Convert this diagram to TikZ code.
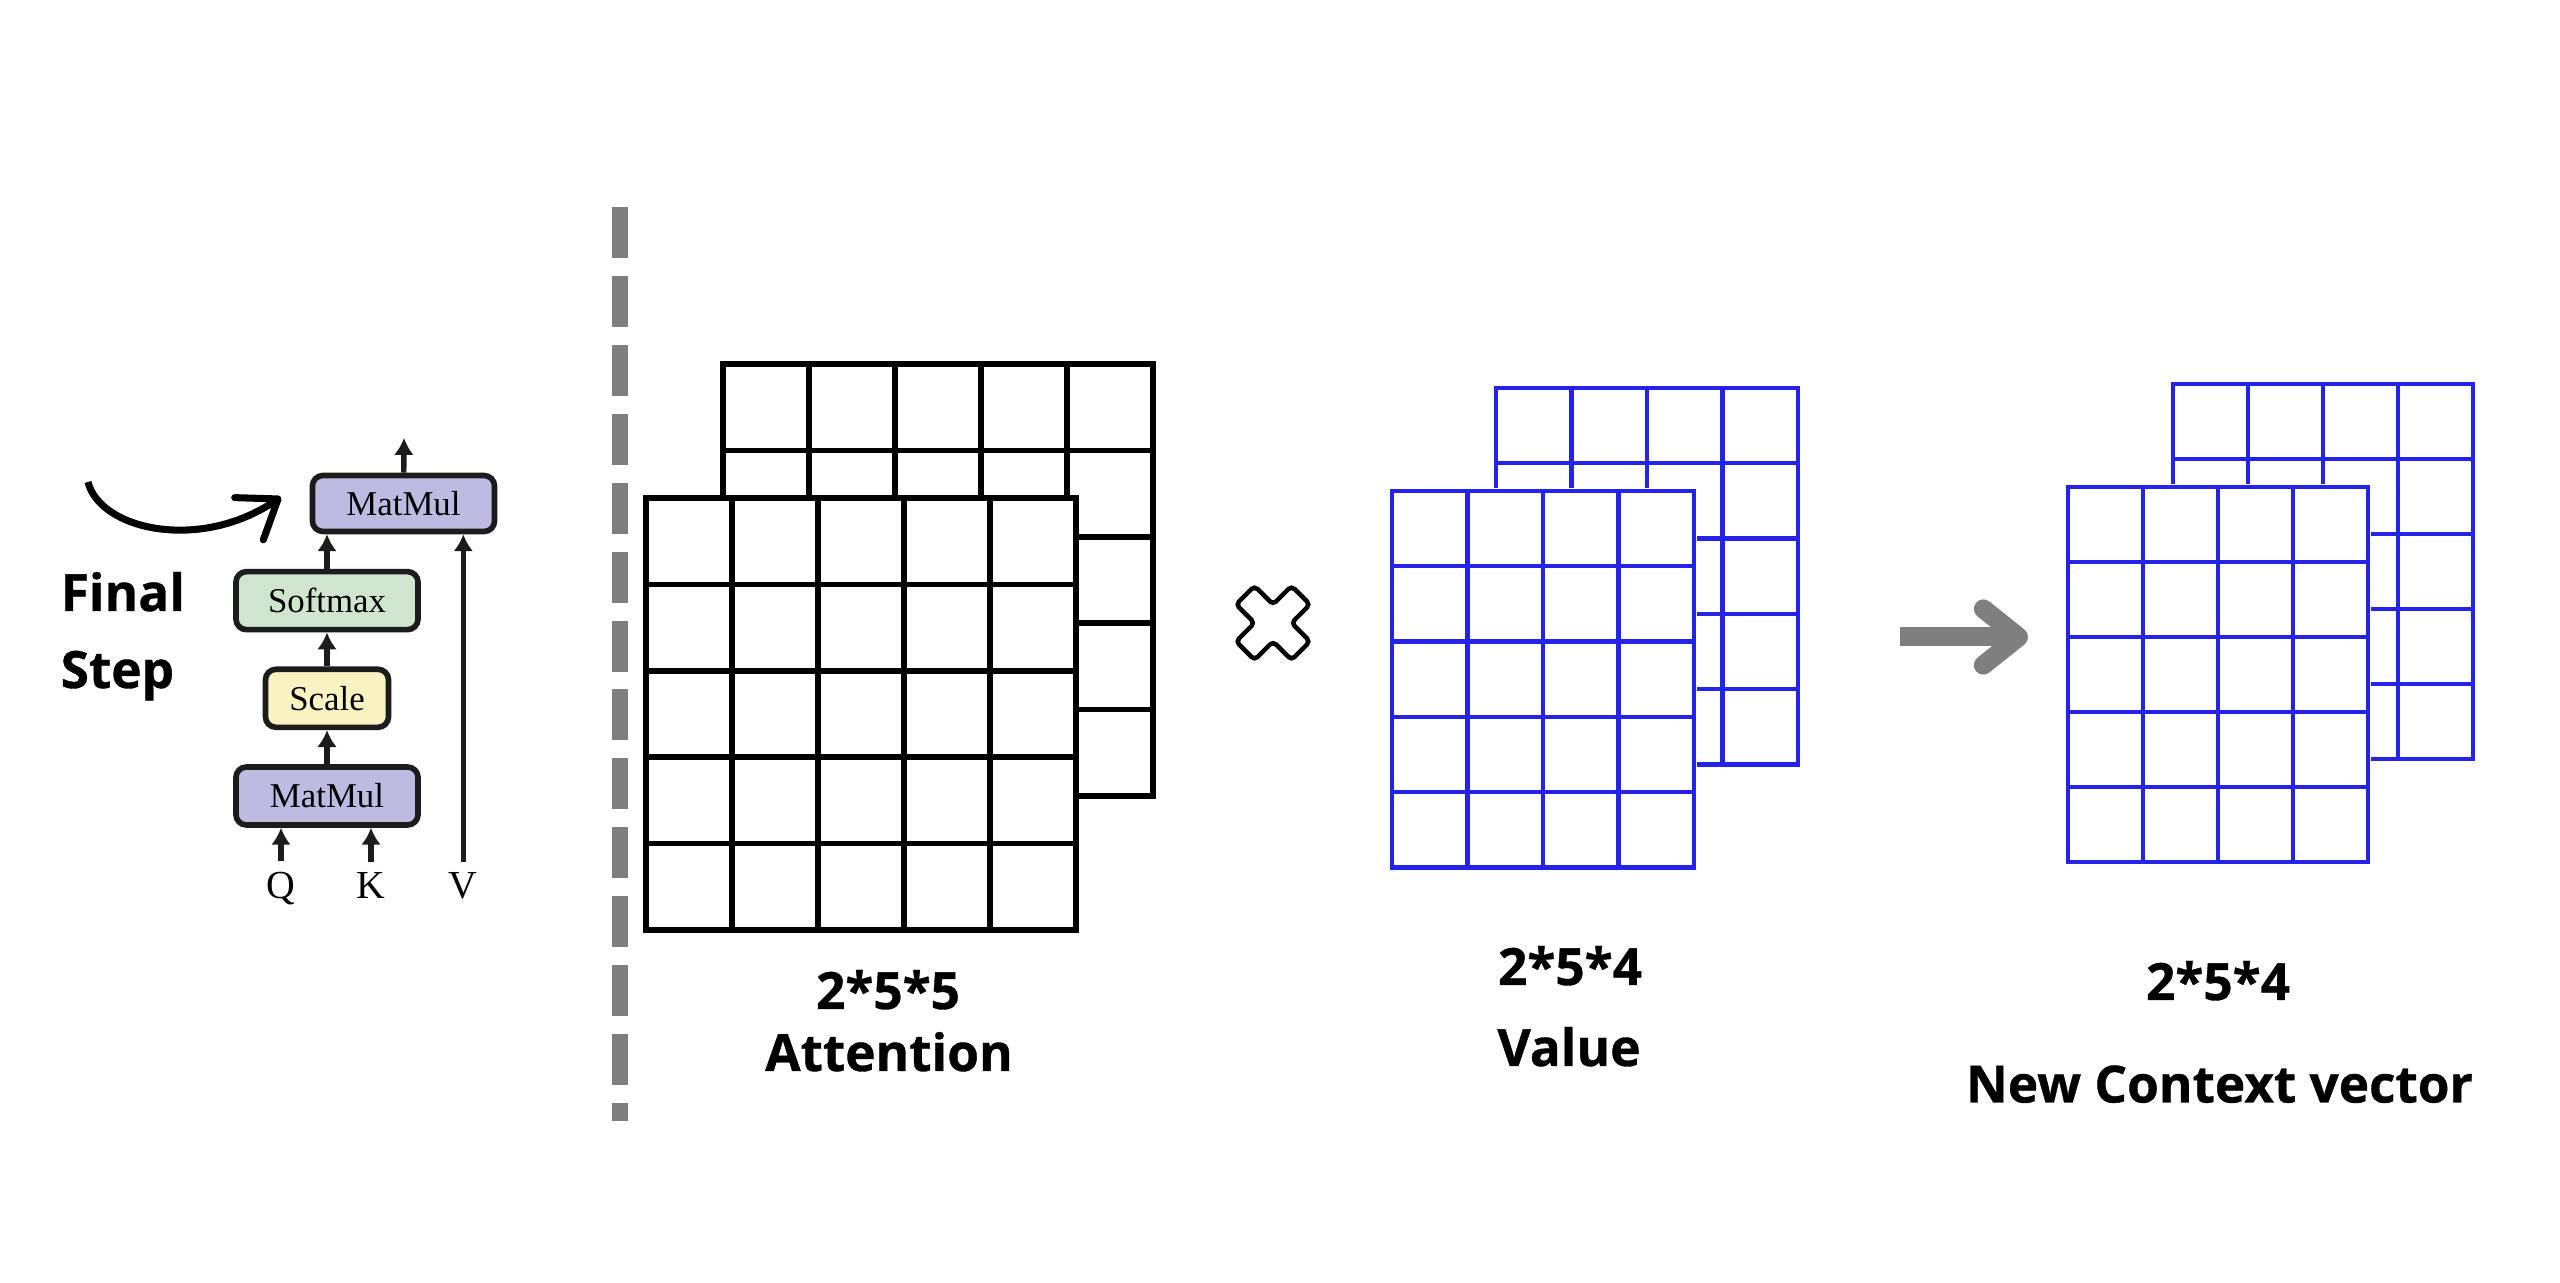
\documentclass[tikz,border=0pt]{standalone}
\usepackage{fontspec}
\setmainfont{Liberation Serif}
\newfontfamily\canvafont{Open Sans}[BoldFeatures={FakeBold=0.7}]
\usepackage{xcolor}
\usepackage{tikz}
\usetikzlibrary{positioning,arrows.meta}
\definecolor{ink}{HTML}{1C1C1C}
\definecolor{lavender}{HTML}{BEBBE3}
\definecolor{mint}{HTML}{CFE5CE}
\definecolor{cream}{HTML}{F8F3C0}
\definecolor{gridblue}{HTML}{2323EB}
\definecolor{divgray}{HTML}{7F7F7F}

\begin{document}
\begin{tikzpicture}[
        x=0.01cm, y=-0.01cm,
        op/.style={
            draw=ink,
            line width=1.6pt,
            rounded corners=3pt,
            minimum width=1.82cm,
            minimum height=0.58cm,
            inner sep=0pt,
            font=\fontsize{9.9}{11}\selectfont
        },
        flow/.style={
            -{Latex[length=4.8pt,width=5.6pt]},
            line width=1.55pt,
            color=ink
        },
        curvy/.style={
            -{Straight Barb[length=10pt,width=14.5pt,round]},
            line width=2pt,
            color=black
        },
        bigarrow/.style={
            -{Straight Barb[length=10pt,width=16pt,round]},
            line width=5.4pt,
            color=divgray
        },
        divider/.style={
            line width=4.8pt,
            color=divgray,
            dash pattern=on 14.5pt off 5.1pt
        },
        cell/.style={
            line cap=rect
        },
        sym/.style={
            inner sep=0pt,
            anchor=base,
            font=\fontsize{11.3}{12}\selectfont
        },
        caption/.style={
            inner sep=0pt,
            anchor=base,
            font=\canvafont\bfseries\fontsize{14.6}{17}\selectfont
        }
    ]
        \fill[white] (0,0) rectangle (2560,1283);
        \useasboundingbox (0,0) rectangle (2560,1283);

        % Left: attention block
        \node[op, fill=lavender] (mm1) at (327,796) {MatMul};
        \node[op, fill=cream, minimum width=1.23cm] (sc) [above=0.34cm of mm1] {Scale};
        \node[op, fill=mint] (sm) [above=0.34cm of sc] {Softmax};
        \node[op, fill=lavender, minimum height=0.56cm] (mm2) at (403.5,503.5) {MatMul};

        \node[sym] (q) at (281,899) {Q};
        \node[sym] (k) at (371,899) {K};
        \node[sym] (v) at (463.3,899) {V};
        \coordinate (out) at (404,438);

        \draw[flow] ([yshift=3pt]q.north) -- (q.north |- mm1.south);
        \draw[flow] ([yshift=3pt]k.north) -- (k.north |- mm1.south);
        \draw[flow] ([yshift=3pt]v.north) -- (v.north |- mm2.south);
        \draw[flow] (mm1) -- (sc);
        \draw[flow] (sc) -- (sm);
        \draw[flow] (sm.north) -- (sm.north |- mm2.south);
        \draw[flow] (mm2) -- (out);

        % Final step note
        \node[caption, anchor=base west] (fin) at (60,611) {Final};
        \node[caption, anchor=base west] (stp) at (60,688) {Step};
        \coordinate (cv0) at (88,482);
        \coordinate (cv1) at (281,497);
        \draw[curvy] (cv0) .. controls (100,530) and (200,552) .. (cv1);

        % Divider
        \draw[divider] (620,207) -- (620,1121);

        % Matrices, back layer first
        \foreach \gx/\gy/\gc/\gw/\gh/\gcol/\glw in {
            723/364/5/86/86.4/black/1.55pt, 646/498/5/86/86.4/black/1.55pt,
            1496/388/4/75.5/75.3/gridblue/1.2pt, 1392/491/4/75.5/75.3/gridblue/1.2pt,
            2173/384/4/75/75/gridblue/1.2pt, 2068/487/4/75/75/gridblue/1.2pt}
        {
            \fill[white] ({\gx-3},{\gy-3}) rectangle ({\gx+\gc*\gw+3},{\gy+5*\gh+3});
            \foreach \i in {0,...,\gc}
                \draw[cell, draw=\gcol, line width=\glw] ({\gx+\i*\gw},\gy) -- ++(0,{5*\gh});
            \foreach \j in {0,...,5}
                \draw[cell, draw=\gcol, line width=\glw] (\gx,{\gy+\j*\gh}) -- ++({\gc*\gw},0);
        }

        % Times sign
        \draw[line width=1.3pt, rounded corners=1.2pt] (1273,604.5)
            -- ++(18.5,-18.5) -- ++(18.5,18.5) -- ++(-18.5,18.5) -- ++(18.5,18.5)
            -- ++(-18.5,18.5) -- ++(-18.5,-18.5) -- ++(-18.5,18.5) -- ++(-18.5,-18.5)
            -- ++(18.5,-18.5) -- ++(-18.5,-18.5) -- ++(18.5,-18.5) -- cycle;

        % Result arrow
        \coordinate (g0) at (1900,637);
        \coordinate (g1) at (2028,637);
        \draw[bigarrow] (g0) -- (g1);

        % Labels
        \node[caption] (dimA) at (888,1009) {2*5*5};
        \node[caption] (nameA) at (889,1071) {Attention};
        \node[caption] (dimV) at (1570,985) {2*5*4};
        \node[caption] (nameV) at (1569,1066) {Value};
        \node[caption] (dimC) at (2218,1000) {2*5*4};
        \node[caption] (nameC) at (2219.5,1102.5) {New Context vector};
    \end{tikzpicture}
\end{document}
